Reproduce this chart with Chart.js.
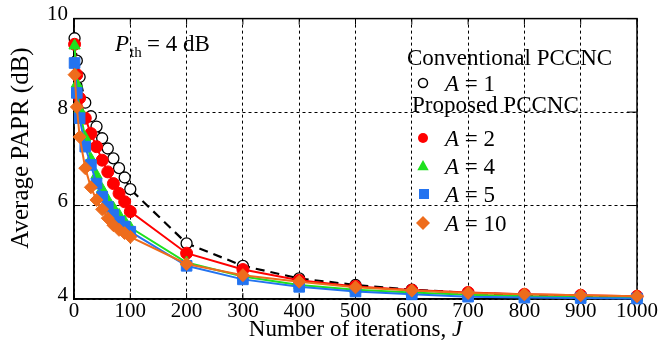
<!DOCTYPE html>
<html>
<head>
<meta charset="utf-8">
<script src="https://cdn.jsdelivr.net/npm/chart.js"></script>
<style>
  html, body { margin: 0; padding: 0; background: #fff; }
  canvas { display: block; }
</style>
</head>
<body>
<canvas id="myChart" width="662" height="344"></canvas>
<script>
// iterations J and average PAPR (dB)
const iterations = [1, 5, 10, 20, 30, 40, 50, 60, 70, 80, 90, 100, 200, 300, 400, 500, 600, 700, 800, 900, 1000];
const paprA1  = [9.58, 9.10, 8.75, 8.20, 7.91, 7.69, 7.44, 7.22, 7.01, 6.80, 6.60, 6.35, 5.19, 4.71, 4.44, 4.30, 4.20, 4.13, 4.09, 4.06, 4.04];
const paprA2  = [9.45, 8.80, 8.30, 7.87, 7.54, 7.26, 6.97, 6.72, 6.47, 6.26, 6.08, 5.87, 4.98, 4.63, 4.40, 4.27, 4.19, 4.14, 4.10, 4.08, 4.06];
const paprA4  = [9.42, 8.60, 8.05, 7.45, 7.00, 6.65, 6.35, 6.12, 5.95, 5.80, 5.66, 5.53, 4.78, 4.48, 4.30, 4.20, 4.14, 4.09, 4.06, 4.04, 4.03];
const paprA5  = [9.05, 8.41, 7.87, 7.26, 6.87, 6.47, 6.19, 5.97, 5.80, 5.65, 5.55, 5.44, 4.71, 4.42, 4.26, 4.16, 4.10, 4.05, 4.03, 4.02, 4.01];
const paprA10 = [8.80, 8.11, 7.47, 6.80, 6.39, 6.12, 5.92, 5.73, 5.58, 5.48, 5.41, 5.33, 4.75, 4.51, 4.37, 4.25, 4.18, 4.13, 4.10, 4.08, 4.06];

const aValues = [1, 2, 4, 5, 10];
const xTicks = [0, 100, 200, 300, 400, 500, 600, 700, 800, 900, 1000];
const yTicks = [4, 6, 8, 10];

const serif = "'Liberation Serif', 'Times New Roman', serif";
const ctx = document.getElementById('myChart');

function toPoints(values) {
  return values.map((v, i) => ({ x: iterations[i], y: v }));
}

function series(label, values, color, style, radius, extra) {
  return Object.assign({
    label: label,
    data: toPoints(values),
    borderColor: color,
    backgroundColor: color,
    borderWidth: 2,
    pointStyle: style,
    pointRadius: radius,
    pointBackgroundColor: color,
    pointBorderColor: color,
    pointBorderWidth: 1,
    tension: 0,
    clip: false
  }, extra || {});
}

const datasets = [
  series('A = 1', paprA1, '#000', 'circle', 5.5, {
    borderDash: [9, 6], borderWidth: 2.2, pointBackgroundColor: '#fff', pointBorderWidth: 1.3, order: 5
  }),
  series('A = 2', paprA2, 'rgb(255,0,0)', 'circle', 6, { order: 4 }),
  series('A = 4', paprA4, 'rgb(30,225,30)', 'triangle', 6.5, { order: 3 }),
  series('A = 5', paprA5, 'rgb(35,115,240)', 'rect', 7.5, { order: 2 }),
  series('A = 10', paprA10, 'rgb(238,108,28)', 'rectRot', 6.5, { order: 1 })
];

function marker(c, style, x, y, r, fill, stroke) {
  c.save();
  c.beginPath();
  if (style === 'circle') c.arc(x, y, r, 0, Math.PI * 2);
  else if (style === 'triangle') { c.moveTo(x, y - r); c.lineTo(x + r * 0.95, y + r * 0.7); c.lineTo(x - r * 0.95, y + r * 0.7); c.closePath(); }
  else if (style === 'rect') c.rect(x - r, y - r, 2 * r, 2 * r);
  else { c.moveTo(x, y - r); c.lineTo(x + r, y); c.lineTo(x, y + r); c.lineTo(x - r, y); c.closePath(); }
  c.fillStyle = fill;
  c.fill();
  if (stroke) { c.strokeStyle = stroke; c.lineWidth = 1.5; c.stroke(); }
  c.restore();
}

function runs(c, parts, x, y) {
  parts.forEach(([t, font]) => {
    c.font = font;
    c.fillText(t, x, y);
    x += c.measureText(t).width;
  });
  return x;
}

function runsWidth(c, parts) {
  let w = 0;
  parts.forEach(([t, font]) => { c.font = font; w += c.measureText(t).width; });
  return w;
}

const decorations = {
  id: 'decorations',
  beforeDatasetsDraw(chart) {
    const c = chart.ctx, a = chart.chartArea, x = chart.scales.x, y = chart.scales.y;
    c.save();
    c.strokeStyle = '#000';
    c.lineWidth = 1.5;
    c.strokeRect(a.left, a.top, a.right - a.left, a.bottom - a.top);
    c.lineWidth = 1;
    c.beginPath();
    xTicks.forEach(v => {
      const px = x.getPixelForValue(v);
      c.moveTo(px, a.bottom); c.lineTo(px, a.bottom - 6);
      c.moveTo(px, a.top); c.lineTo(px, a.top + 6);
    });
    yTicks.forEach(v => {
      const py = y.getPixelForValue(v);
      c.moveTo(a.left, py); c.lineTo(a.left + 6, py);
      c.moveTo(a.right, py); c.lineTo(a.right - 10, py);
    });
    c.stroke();
    c.restore();
  },
  afterDraw(chart) {
    const c = chart.ctx, a = chart.chartArea;
    const norm = size => size + 'px ' + serif;
    const ital = size => 'italic ' + size + 'px ' + serif;
    c.save();
    c.fillStyle = '#000';
    c.textBaseline = 'alphabetic';
    c.textAlign = 'left';

    // threshold note
    let px = runs(c, [['P', ital(23)]], 115, 51);
    runs(c, [['th', norm(15)]], px + 1, 57);
    runs(c, [['= 4 dB', norm(23)]], 147, 51);

    // legend
    runs(c, [['Conventional PCCNC', norm(23)]], 407, 65);
    runs(c, [['Proposed PCCNC', norm(23)]], 412, 112);
    const rows = [91, 146, 174, 202, 231];
    datasets.forEach((ds, i) => {
      const my = rows[i] - 8;
      if (i === 0) marker(c, 'circle', 423, my, 4.5, '#fff', '#000');
      else if (ds.pointStyle === 'rect') marker(c, 'rect', 424, my, 5, ds.borderColor);
      else if (ds.pointStyle === 'rectRot') marker(c, 'rectRot', 423, my, 7, ds.borderColor);
      else if (ds.pointStyle === 'triangle') marker(c, 'triangle', 423, my, 6, ds.borderColor);
      else marker(c, 'circle', 423, my, 5, ds.borderColor);
      c.fillStyle = '#000';
      runs(c, [['A', ital(23)], [' = ' + aValues[i], norm(23)]], 445, rows[i]);
    });

    // x axis title
    c.fillStyle = '#000';
    const xParts = [['Number of iterations, ', norm(23)], ['J', ital(23)]];
    const w = runsWidth(c, xParts);
    runs(c, xParts, (a.left + a.right) / 2 - w / 2, 336);

    // y axis title
    c.translate(28, 148);
    c.rotate(-Math.PI / 2);
    c.textAlign = 'center';
    c.font = norm(25);
    c.fillText('Average PAPR (dB)', 0, 0);
    c.restore();
  }
};

new Chart(ctx, {
  type: 'line',
  data: { datasets: datasets },
  options: {
    responsive: false,
    animation: false,
    devicePixelRatio: 1,
    layout: { padding: { left: 0, right: 25, top: 18, bottom: 0 } },
    plugins: { legend: { display: false }, tooltip: { enabled: false } },
    scales: {
      x: {
        type: 'linear',
        min: 0,
        max: 1000,
        afterBuildTicks: s => { s.ticks = xTicks.map(v => ({ value: v })); },
        afterFit: s => { s.height = 45; },
        ticks: { color: '#000', font: { family: serif, size: 21 }, padding: 0, maxRotation: 0, autoSkip: false,
                 callback: v => String(v) },
        grid: { color: '#000', lineWidth: 1, drawTicks: false },
        border: { display: true, color: '#000', width: 1.5, dash: [3, 3] }
      },
      y: {
        type: 'linear',
        min: 4,
        max: 10,
        afterBuildTicks: s => { s.ticks = yTicks.map(v => ({ value: v })); },
        afterFit: s => { s.width = 74; },
        ticks: { color: '#000', font: { family: serif, size: 21 }, padding: 6, labelOffset: -4,
                 callback: v => String(v) },
        grid: { color: '#000', lineWidth: 1, drawTicks: false },
        border: { display: true, color: '#000', width: 1.5, dash: [3, 3] }
      }
    }
  },
  plugins: [decorations]
});
</script>
</body>
</html>
